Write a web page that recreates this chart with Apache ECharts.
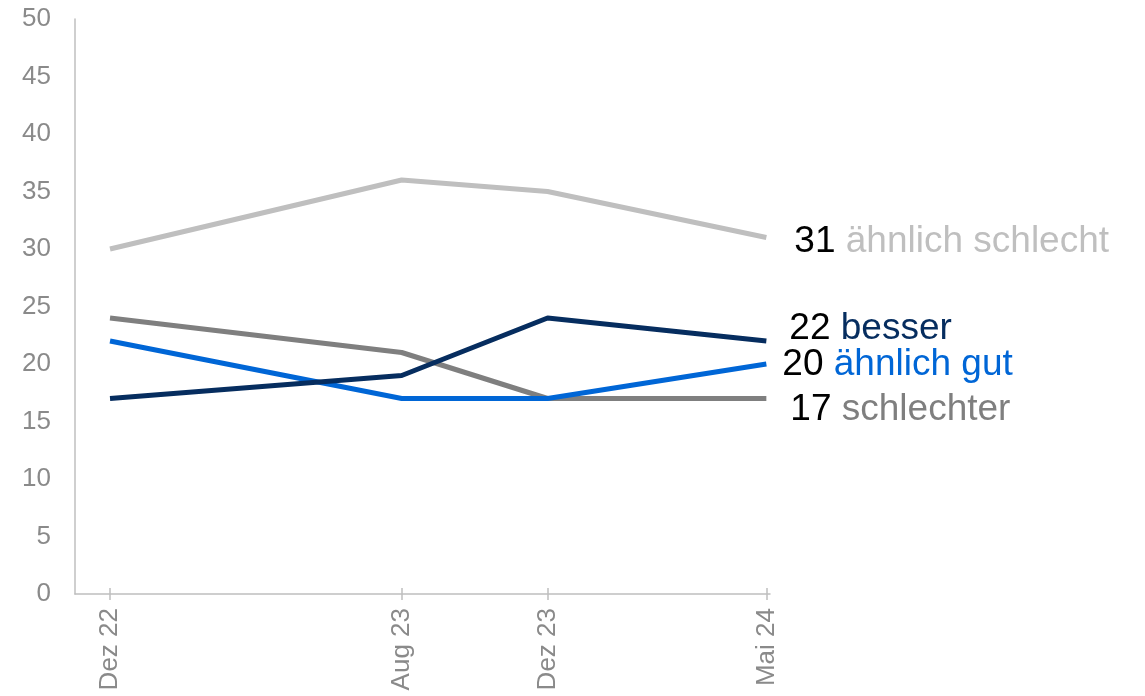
<!DOCTYPE html>
<html>
<head>
<meta charset="utf-8">
<script src="https://cdn.jsdelivr.net/npm/echarts@6/dist/echarts.min.js"></script>
<style>
  html, body { margin: 0; padding: 0; background: #ffffff; }
  #chart { width: 1145px; height: 696px; }
</style>
</head>
<body>
<div id="chart"></div>
<script>
// Survey waves, placed on a month scale (months since Dez 22)
const waveLabels = ['Dez 22', 'Aug 23', 'Dez 23', 'Mai 24'];
const waveMonths = [0, 8, 12, 18];

// Shares in percent per answer category
const aehnlichSchlecht = [30, 36, 35, 31];
const besser = [17, 19, 24, 22];
const aehnlichGut = [22, 17, 17, 20];
const schlechter = [24, 21, 17, 17];

const yTicks = [0, 5, 10, 15, 20, 25, 30, 35, 40, 45, 50];

const seriesDefs = [
  { name: 'ähnlich schlecht', values: aehnlichSchlecht, color: '#bfbfbf', offset: [28, 4] },
  { name: 'schlechter', values: schlechter, color: '#7f7f7f', offset: [24, 11] },
  { name: 'ähnlich gut', values: aehnlichGut, color: '#0066d6', offset: [16, 1] },
  { name: 'besser', values: besser, color: '#062d5f', offset: [23, -12] }
];

const font = 'Liberation Sans, Arial, sans-serif';

const chart = echarts.init(document.getElementById('chart'), null, { renderer: 'canvas' });

const axisGray = '#bfbfbf';
const labelGray = '#8a8a8a';

chart.setOption({
  animation: false,
  backgroundColor: '#ffffff',
  grid: { left: 75, right: 375, top: 19, bottom: 102, containLabel: false },
  xAxis: [
    {
      type: 'value',
      min: -0.96,
      max: 18.1,
      splitLine: { show: false },
      axisLine: { show: true, onZero: false, lineStyle: { color: axisGray, width: 1.5 } },
      axisTick: {
        show: true, length: 6, lineStyle: { color: axisGray, width: 1.5 },
        customValues: waveMonths
      },
      axisLabel: {
        show: true,
        rotate: 90,
        margin: 14,
        color: labelGray,
        fontFamily: font,
        fontSize: 26,
        customValues: waveMonths,
        formatter: function (v) {
          const i = waveMonths.indexOf(v);
          return i >= 0 ? waveLabels[i] : '';
        }
      }
    },
    {
      // inward half of the crossing tick marks
      type: 'value',
      position: 'bottom',
      min: -0.96,
      max: 18.1,
      splitLine: { show: false },
      axisLine: { show: false, onZero: false },
      axisTick: {
        show: true, inside: true, length: 6, lineStyle: { color: axisGray, width: 1.5 },
        customValues: waveMonths
      },
      axisLabel: { show: false }
    }
  ],
  yAxis: {
    type: 'value',
    min: 0,
    max: 50,
    interval: 5,
    splitLine: { show: false },
    axisLine: { show: true, onZero: false, lineStyle: { color: axisGray, width: 1.5 } },
    axisTick: { show: false },
    axisLabel: {
      margin: 24,
      color: labelGray,
      fontFamily: font,
      fontSize: 26,
      customValues: yTicks
    }
  },
  series: seriesDefs.map(function (s) {
    return {
      name: s.name,
      type: 'line',
      xAxisIndex: 0,
      data: s.values.map(function (v, i) { return [waveMonths[i], v]; }),
      symbol: 'none',
      lineStyle: { color: s.color, width: 5 },
      itemStyle: { color: s.color },
      endLabel: {
        show: true,
        distance: 0,
        offset: s.offset,
        formatter: function (p) {
          return '{v|' + p.value[1] + '\u00a0}{n|' + s.name + '}';
        },
        rich: {
          v: { color: '#000000', fontFamily: font, fontSize: 37 },
          n: { color: s.color, fontFamily: font, fontSize: 37 }
        }
      }
    };
  })
});
</script>
</body>
</html>
